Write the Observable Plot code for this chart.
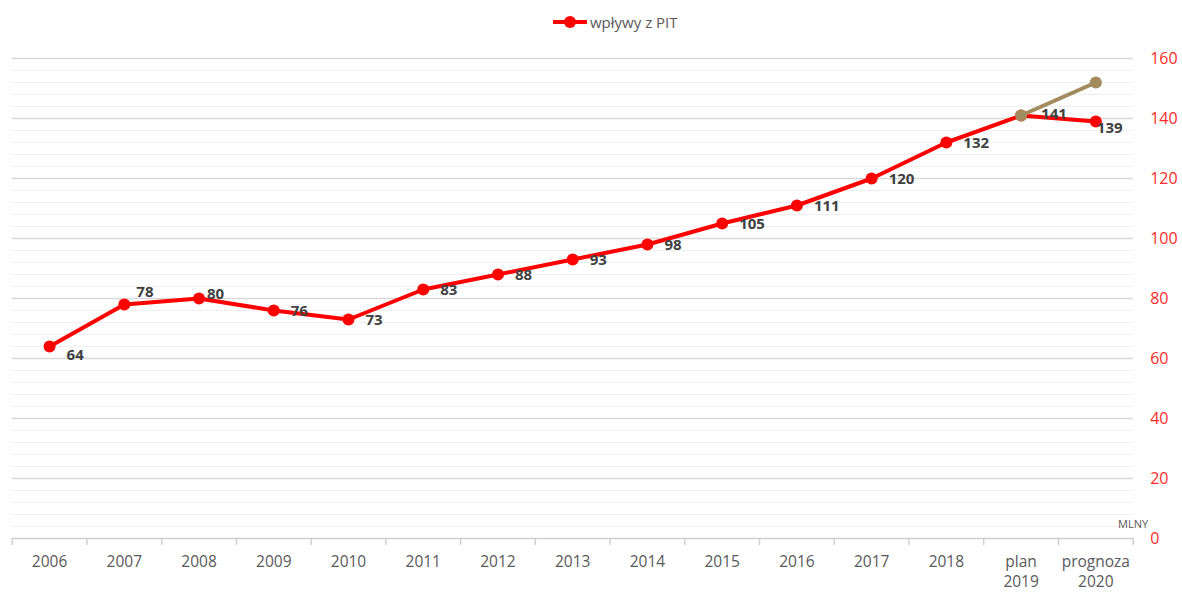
<!DOCTYPE html>
<html>
<head>
<meta charset="utf-8">
<script src="https://cdn.jsdelivr.net/npm/d3@7"></script>
<script src="https://cdn.jsdelivr.net/npm/@observablehq/plot@0.6"></script>
<style>
  html, body { margin: 0; padding: 0; background: #fff; }
  body { width: 1182px; height: 592px; position: relative; overflow: hidden; font-family: "Open Sans", sans-serif; }
  #legend { position: relative; height: 40px; }
  #legend .item { position: absolute; left: 553px; top: 12px; display: flex; align-items: center; height: 20px; }
  #legend .sw { position: relative; width: 34px; height: 20px; }
  #legend .sw .ln { position: absolute; left: 0; top: 8px; width: 34px; height: 4px; background: #ff0000; }
  #legend .sw .dt { position: absolute; left: 11px; top: 4px; width: 12px; height: 12px; border-radius: 50%; background: #ff0000; }
  #legend .tx { margin-left: 3px; font-size: 15px; color: #595959; }
</style>
</head>
<body>
<div id="legend"><div class="item"><div class="sw"><div class="ln"></div><div class="dt"></div></div><div class="tx">wpływy z PIT</div></div></div>
<div id="chart"></div>
<script>
const categories = ["2006","2007","2008","2009","2010","2011","2012","2013","2014","2015","2016","2017","2018","plan 2019","prognoza 2020"];
const tickLabels = ["2006","2007","2008","2009","2010","2011","2012","2013","2014","2015","2016","2017","2018","plan\n2019","prognoza\n2020"];
const pitValues = [64, 78, 80, 76, 73, 83, 88, 93, 98, 105, 111, 120, 132, 141, 139];
const planCategories = ["plan 2019", "prognoza 2020"];
const planValues = [141, 152];
const majorTicks = [0, 20, 40, 60, 80, 100, 120, 140, 160];
const minorTicks = d3.range(4, 160, 4).filter(v => v % 20 !== 0);

const pit = categories.map((c, i) => ({cat: c, value: pitValues[i]}));
const plan = planCategories.map((c, i) => ({cat: c, value: planValues[i]}));

const W = 1182, H = 552;
const mL = 11.7, mR = 49.3, mT = 18, mB = 54;
const bw = (W - mL - mR) / categories.length;

// label offsets (style)
const offsets = {"2006": [17, 9], "2007": [12, -12], "2008": [8, -4], "plan 2019": [20, -1], "prognoza 2020": [1, 7]};
const labelMarks = pit.map(d => {
  const [dx, dy] = offsets[d.cat] || [17, 1];
  return Plot.text([d], {x: "cat", y: "value", text: d => String(d.value), dx, dy,
    textAnchor: "start", fill: "#404040", fontWeight: "bold", fontSize: 15});
});

const chart = Plot.plot({
  width: W, height: H,
  marginLeft: mL, marginRight: mR, marginTop: mT, marginBottom: mB,
  style: {fontFamily: "'Open Sans', sans-serif", background: "#fff"},
  x: {type: "band", domain: categories, padding: 0, round: false, label: null},
  y: {domain: [0, 160], label: null},
  marks: [
    Plot.ruleY(minorTicks, {stroke: "#efefef", strokeWidth: 1.2}),
    Plot.ruleY(majorTicks.filter(v => v > 0), {stroke: "#d9d9d9", strokeWidth: 1.5}),
    Plot.ruleY([0], {stroke: "#d0d0d0", strokeWidth: 1.5}),
    Plot.ruleX(categories, {x: d => d, dx: -bw / 2, y1: 0, y2: -7 / 3, stroke: "#d0d0d0", strokeWidth: 1.5, clip: false}),
    Plot.ruleX([categories[categories.length - 1]], {x: d => d, dx: bw / 2, y1: 0, y2: -7 / 3, stroke: "#d0d0d0", strokeWidth: 1.5}),
    Plot.axisX({tickSize: 0, tickPadding: 14, fontSize: 15.5, fill: "#595959", lineHeight: 1.3,
      tickFormat: d => tickLabels[categories.indexOf(d)], label: null}),
    Plot.axisY({anchor: "right", ticks: majorTicks, tickSize: 0, tickPadding: 17, fontSize: 16, fill: "#ff2b2b", label: null}),
    Plot.text(["MLNY"], {frameAnchor: "bottom-right", text: d => d, dx: 15, dy: -11, fontSize: 11, fill: "#595959", textAnchor: "end", letterSpacing: "-0.5px"}),
    Plot.line(pit, {x: "cat", y: "value", stroke: "#ff0000", strokeWidth: 4, strokeLinejoin: "round"}),
    Plot.dot(pit, {x: "cat", y: "value", r: 6, fill: "#ff0000"}),
    Plot.line(plan, {x: "cat", y: "value", stroke: "#a38b5e", strokeWidth: 4}),
    Plot.dot(plan, {x: "cat", y: "value", r: 6, fill: "#a38b5e"}),
    ...labelMarks
  ]
});
document.getElementById("chart").appendChild(chart);
</script>
</body>
</html>
